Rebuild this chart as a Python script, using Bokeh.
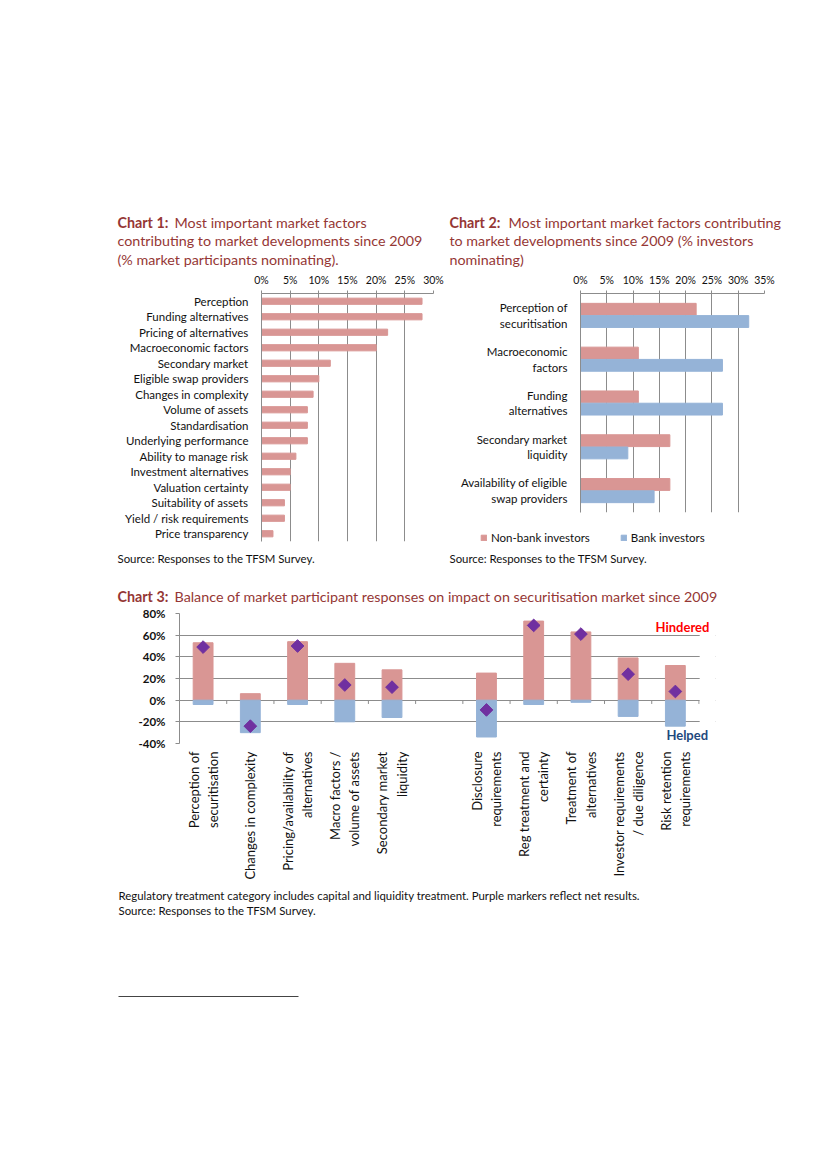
import math
from bokeh.plotting import figure
from bokeh.models import (Range1d, FactorRange, FixedTicker, NumeralTickFormatter, Label,
                          Legend, LegendItem, ColumnDataSource, Spacer, BoxAnnotation)
from bokeh.layouts import column, row
from bokeh.transform import dodge
from bokeh.embed import file_html
from bokeh.resources import INLINE

FONT = "Lato"
TITLE_COLOR = "#953735"
TEXT = "#111111"
PINK = "#D99694"
BLUE = "#95B3D7"
GRID = "#8C8C8C"
PURPLE = "#7030A0"
TSIZE = "14.3px"
NSIZE = "11.4px"

# ---------------- data ----------------
c1_categories = ["Perception", "Funding alternatives", "Pricing of alternatives",
                 "Macroeconomic factors", "Secondary market", "Eligible swap providers",
                 "Changes in complexity", "Volume of assets", "Standardisation",
                 "Underlying performance", "Ability to manage risk", "Investment alternatives",
                 "Valuation certainty", "Suitability of assets", "Yield / risk requirements",
                 "Price transparency"]
c1_values = [0.28, 0.28, 0.22, 0.20, 0.12, 0.10, 0.09, 0.08, 0.08, 0.08, 0.06, 0.05,
             0.05, 0.04, 0.04, 0.02]
c1_ticks = [0, 0.05, 0.10, 0.15, 0.20, 0.25, 0.30]

c2_categories = ["Perception of\nsecuritisation", "Macroeconomic\nfactors", "Funding\nalternatives",
                 "Secondary market\nliquidity", "Availability of eligible\nswap providers"]
c2_nonbank = [0.22, 0.11, 0.11, 0.17, 0.17]
c2_bank = [0.32, 0.27, 0.27, 0.09, 0.14]
c2_series = ["Non-bank investors", "Bank investors"]
c2_ticks = [0, 0.05, 0.10, 0.15, 0.20, 0.25, 0.30, 0.35]

c3_categories = ["Perception of\nsecuritisation", "Changes in complexity",
                 "Pricing/availability of\nalternatives", "Macro factors /\nvolume of assets",
                 "Secondary market\nliquidity", "", "Disclosure\nrequirements",
                 "Reg treatment and\ncertainty", "Treatment of\nalternatives",
                 "Investor requirements\n/ due diligence", "Risk retention\nrequirements"]
c3_hindered = [0.53, 0.06, 0.54, 0.34, 0.28, 0.25, 0.73, 0.63, 0.39, 0.32]
c3_helped = [-0.04, -0.30, -0.04, -0.20, -0.16, -0.34, -0.04, -0.02, -0.15, -0.24]
c3_net = [0.49, -0.24, 0.50, 0.14, 0.12, -0.09, 0.69, 0.61, 0.24, 0.08]
c3_ticks = [-0.4, -0.2, 0, 0.2, 0.4, 0.6, 0.8]

TITLE1 = ["Most important market factors", "contributing to market developments since 2009",
          "(% market participants nominating)."]
TITLE2 = ["Most important market factors contributing", "to market developments since 2009 (% investors",
          "nominating)"]
TITLE3 = "Balance of market participant responses on impact on securitisation market since 2009"
SOURCE = "Source: Responses to the TFSM Survey."
NOTE3 = "Regulatory treatment category includes capital and liquidity treatment. Purple markers reflect net results."


def text_fig(w, h):
    f = figure(width=w, height=h, x_range=Range1d(0, w), y_range=Range1d(0, h),
               x_axis_type=None, y_axis_type=None, output_backend="svg",
               toolbar_location=None, min_border=0)
    f.outline_line_color = None
    f.grid.visible = False
    return f


def put(f, x, y, text, size, color=TEXT, bold=False):
    f.add_layout(Label(x=x, y=y, text=text, text_font=FONT, text_font_size=size,
                       text_color=color, text_font_style="bold" if bold else "normal",
                       text_baseline="middle", text_align="left"))


def solo(item):
    # wrap so that Bokeh does not align this plot's frame with its neighbours
    return row(Spacer(width=0, height=0), item)


def style_value_axis(ax, size="10.5px"):
    ax.axis_line_color = GRID
    ax.major_tick_line_color = GRID
    ax.major_tick_out = 3
    ax.major_tick_in = 0
    ax.minor_tick_line_color = None
    ax.major_label_standoff = 5
    ax.major_label_text_font = FONT
    ax.major_label_text_font_size = size
    ax.major_label_text_color = TEXT


def style_cat_axis(ax):
    ax.axis_line_color = GRID
    ax.major_tick_line_color = None
    ax.major_tick_out = 0
    ax.major_tick_in = 0
    ax.major_label_standoff = 13
    ax.major_label_text_font = FONT
    ax.major_label_text_font_size = "11.5px"
    ax.major_label_text_color = TEXT


# ---------------- headers ----------------
head1 = text_fig(335, 70)
put(head1, 7, 48.5, "Chart 1:", TSIZE, TITLE_COLOR, True)
put(head1, 64, 48.5, TITLE1[0], TSIZE, TITLE_COLOR)
put(head1, 7, 30, TITLE1[1], TSIZE, TITLE_COLOR)
put(head1, 7, 11.5, TITLE1[2], TSIZE, TITLE_COLOR)

head2 = text_fig(345, 70)
put(head2, 4, 48.5, "Chart 2:", TSIZE, TITLE_COLOR, True)
put(head2, 63, 48.5, TITLE2[0], TSIZE, TITLE_COLOR)
put(head2, 4, 30, TITLE2[1], TSIZE, TITLE_COLOR)
put(head2, 4, 11.5, TITLE2[2], TSIZE, TITLE_COLOR)

# ---------------- chart 1 ----------------
p1 = figure(width=335, height=278, x_range=Range1d(0, 0.30),
            y_range=FactorRange(factors=c1_categories[::-1]),
            x_axis_location="above", output_backend="svg", toolbar_location=None,
            min_border_left=151, min_border_right=12, min_border_top=22, min_border_bottom=7)
p1.outline_line_color = None
p1.hbar(y=c1_categories, right=c1_values, height=0.4, fill_color=PINK, line_color=PINK)
p1.xaxis.ticker = FixedTicker(ticks=c1_ticks)
p1.xaxis.formatter = NumeralTickFormatter(format="0%")
style_value_axis(p1.xaxis[0])
style_cat_axis(p1.yaxis[0])
p1.xgrid.grid_line_color = GRID
p1.ygrid.grid_line_color = None

# ---------------- chart 2 ----------------
p2 = figure(width=345, height=250, x_range=Range1d(0, 0.35),
            y_range=FactorRange(factors=c2_categories[::-1]),
            x_axis_location="above", output_backend="svg", toolbar_location=None,
            min_border_left=135, min_border_right=26, min_border_top=22, min_border_bottom=8)
p2.outline_line_color = None
src2 = ColumnDataSource(dict(cat=c2_categories, nonbank=c2_nonbank, bank=c2_bank))
p2.hbar(y=dodge("cat", 0.14, range=p2.y_range), right="nonbank", height=0.27,
        fill_color=PINK, line_color=PINK, source=src2)
p2.hbar(y=dodge("cat", -0.14, range=p2.y_range), right="bank", height=0.27,
        fill_color=BLUE, line_color=BLUE, source=src2)
p2.xaxis.ticker = FixedTicker(ticks=c2_ticks)
p2.xaxis.formatter = NumeralTickFormatter(format="0%")
style_value_axis(p2.xaxis[0])
style_cat_axis(p2.yaxis[0])
p2.xgrid.grid_line_color = GRID
p2.ygrid.grid_line_color = None

# ---------------- footers 1/2 ----------------
foot1 = text_fig(335, 20)
put(foot1, 7, 10, SOURCE, NSIZE)

foot2 = text_fig(345, 48)
# legend proxies for the two chart-2 series (kept outside the visible area)
proxy = ColumnDataSource(dict(y=[-1000], left=[0], right=[1]))
lg_nb = foot2.hbar(y="y", left="left", right="right", height=1, fill_color=PINK,
                   line_color=PINK, source=proxy)
lg_b = foot2.hbar(y="y", left="left", right="right", height=1, fill_color=BLUE,
                  line_color=BLUE, source=proxy)
legend = Legend(items=[LegendItem(label=c2_series[0], renderers=[lg_nb]),
                       LegendItem(label=c2_series[1], renderers=[lg_b])],
                orientation="horizontal", location=(35, 24),
                glyph_width=7, glyph_height=7, label_standoff=4, spacing=30,
                padding=0, margin=0, border_line_color=None, background_fill_alpha=0,
                label_text_font=FONT, label_text_font_size="11.5px", label_text_color=TEXT,
                label_height=12)
foot2.add_layout(legend)
put(foot2, 4, 10, SOURCE, NSIZE)

# ---------------- chart 3 ----------------
head3 = text_fig(620, 38)
put(head3, 7, 10, "Chart 3:", TSIZE, TITLE_COLOR, True)
put(head3, 64, 10, TITLE3, TSIZE, TITLE_COLOR)

n3 = len(c3_categories)
p3 = figure(width=620, height=282, x_range=Range1d(0, n3 + 0.35), y_range=Range1d(-0.4, 0.8),
            output_backend="svg", toolbar_location=None,
            min_border_left=69, min_border_right=15, min_border_top=7, min_border_bottom=145)
p3.outline_line_color = None
c3_x = [i + 0.5 for i, c in enumerate(c3_categories) if c]
src3 = ColumnDataSource(dict(x=c3_x, hindered=c3_hindered, helped=c3_helped, net=c3_net))
p3.vbar(x="x", bottom=0, top="hindered", width=0.42, fill_color=PINK, line_color=PINK, source=src3)
p3.vbar(x="x", bottom="helped", top=0, width=0.42, fill_color=BLUE, line_color=BLUE, source=src3)
bounds = [i + 1 for i in range(n3)]
p3.segment(x0=bounds, x1=bounds, y0=0, y1=-0.035, line_color=GRID, line_width=1)
p3.scatter(x="x", y="net", marker="square", angle=math.pi / 4, size=9,
           fill_color=PURPLE, line_color=PURPLE, source=src3)

p3.yaxis.ticker = FixedTicker(ticks=c3_ticks)
p3.yaxis.formatter = NumeralTickFormatter(format="0%")
ay = p3.yaxis[0]
ay.axis_line_color = GRID
ay.major_tick_line_color = GRID
ay.major_tick_out = 4
ay.major_tick_in = 0
ay.minor_tick_line_color = None
ay.major_label_standoff = 10
ay.major_label_text_font = FONT
ay.major_label_text_font_size = "11.5px"
ay.major_label_text_font_style = "bold"
ay.major_label_text_color = TEXT

centers = [i + 0.5 for i in range(n3)]
axx = p3.xaxis[0]
axx.ticker = FixedTicker(ticks=centers)
axx.major_label_overrides = {c: lab for c, lab in zip(centers, c3_categories)}
axx.axis_line_color = None
axx.major_tick_line_color = None
axx.minor_tick_line_color = None
axx.major_tick_out = 0
axx.major_tick_in = 0
axx.major_label_orientation = math.pi / 2
axx.major_label_standoff = 8
axx.major_label_text_font = FONT
axx.major_label_text_font_size = "13px"
axx.major_label_text_color = TEXT
p3.xgrid.grid_line_color = None
p3.ygrid.grid_line_color = GRID

# mask the grid beyond the last category so the plot area ends there
p3.add_layout(BoxAnnotation(left=n3 + 0.015, fill_color="white", fill_alpha=1.0, line_color=None))
p3.add_layout(Label(x=10.08, y=0.677, text="Hindered", text_font=FONT, text_font_size="13px",
                    text_color="#FF0000", text_font_style="bold", text_baseline="middle"))
p3.add_layout(Label(x=10.31, y=-0.32, text="Helped", text_font=FONT, text_font_size="13px",
                    text_color="#1F497D", text_font_style="bold", text_baseline="middle"))

foot3 = text_fig(620, 112)
put(foot3, 8, 105, NOTE3, NSIZE)
put(foot3, 8, 90, SOURCE, NSIZE)
foot3.segment(x0=[8], x1=[188], y0=[4], y1=[4], line_color="#444444", line_width=1)

layout = column(
    Spacer(width=10, height=200),
    row(Spacer(width=110, height=10), solo(head1), solo(head2)),
    row(Spacer(width=110, height=10),
        column(solo(p1), solo(foot1)),
        column(solo(p2), solo(foot2))),
    row(Spacer(width=110, height=10), solo(head3)),
    row(Spacer(width=110, height=10), solo(p3)),
    row(Spacer(width=110, height=10), solo(foot3)),
)

open("out.html", "w").write(file_html(layout, INLINE))
